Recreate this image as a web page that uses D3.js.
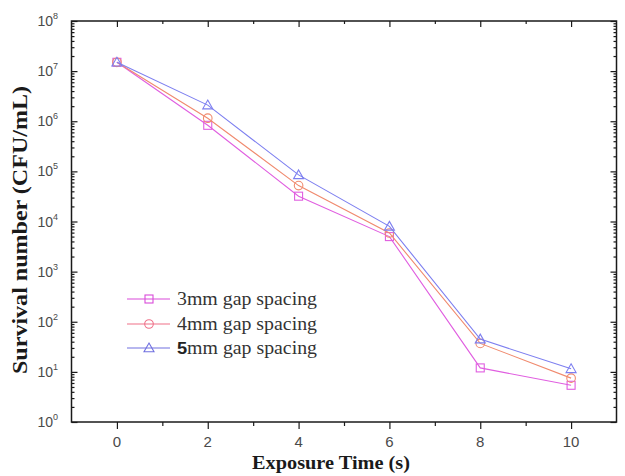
<!DOCTYPE html>
<html>
<head>
<meta charset="utf-8">
<script src="https://cdn.jsdelivr.net/npm/d3@7/dist/d3.min.js"></script>
<style>
  html, body { margin: 0; padding: 0; background: #fff; }
  svg { display: block; }
  .serif { font-family: "Liberation Serif", "Times New Roman", serif; }
  .sans { font-family: "Liberation Sans", Arial, sans-serif; }
</style>
</head>
<body>
<svg id="chart" width="625" height="476"></svg>
<script>
// Exposure time (s) and survival counts (CFU/mL) for each electrode gap
const exposureTimes = [0, 2, 4, 6, 8, 10];
const gap3mm = [1.5e7, 8.3e5, 3.2e4, 5.0e3, 12, 5.4];
const gap4mm = [1.5e7, 1.15e6, 5.2e4, 5.9e3, 37, 7.5];
const gap5mm = [1.5e7, 2.1e6, 8.5e4, 8.0e3, 45, 11.5];
const seriesNames = ["3mm gap spacing", "4mm gap spacing", "5mm gap spacing"];
const xTickValues = [0, 2, 4, 6, 8, 10];
const yDecades = [0, 1, 2, 3, 4, 5, 6, 7, 8];

const series = [
  { name: seriesNames[0], values: gap3mm, color: "#e05ee0", legendColor: "#d94bd9", marker: "square" },
  { name: seriesNames[1], values: gap4mm, color: "#f08a6e", legendColor: "#ef7088", marker: "circle" },
  { name: seriesNames[2], values: gap5mm, color: "#7d7ff0", legendColor: "#7070e0", marker: "triangle" }
];

const svg = d3.select("#chart");
const plot = { left: 71.5, right: 616.5, top: 21, bottom: 422 };

const x = d3.scaleLinear().domain([-1, 11]).range([plot.left, plot.right]);
const y = d3.scaleLog().domain([1, 1e8]).range([plot.bottom, plot.top]);

const axisColor = "#1a1a1a";

// Minor log ticks (2..9 within each decade)
const minorY = [];
for (let d = 0; d < 8; d++) for (let m = 2; m <= 9; m++) minorY.push(m * Math.pow(10, d));
const majorY = yDecades.map(d => Math.pow(10, d));
const oddX = [1, 3, 5, 7, 9];

function styleAxis(g) {
  g.select(".domain").remove();
  g.selectAll(".tick line").attr("stroke", axisColor).attr("stroke-width", 1.2);
}

// Left and right axes: inward ticks
svg.append("g").attr("transform", `translate(${plot.left},0)`)
  .call(d3.axisRight(y).tickValues(majorY).tickSize(6).tickFormat("")).call(styleAxis);
svg.append("g").attr("transform", `translate(${plot.left},0)`)
  .call(d3.axisRight(y).tickValues(minorY).tickSize(3).tickFormat("")).call(styleAxis);
svg.append("g").attr("transform", `translate(${plot.right},0)`)
  .call(d3.axisLeft(y).tickValues(majorY).tickSize(6).tickFormat("")).call(styleAxis);
svg.append("g").attr("transform", `translate(${plot.right},0)`)
  .call(d3.axisLeft(y).tickValues(minorY).tickSize(3).tickFormat("")).call(styleAxis);
// Bottom axis: outward ticks
svg.append("g").attr("transform", `translate(0,${plot.bottom})`)
  .call(d3.axisBottom(x).tickValues(xTickValues).tickSize(7).tickFormat("")).call(styleAxis);
svg.append("g").attr("transform", `translate(0,${plot.bottom})`)
  .call(d3.axisBottom(x).tickValues(oddX).tickSize(4).tickFormat("")).call(styleAxis);
// Top axis: inward ticks
svg.append("g").attr("transform", `translate(0,${plot.top})`)
  .call(d3.axisBottom(x).tickValues(xTickValues).tickSize(6).tickFormat("")).call(styleAxis);
svg.append("g").attr("transform", `translate(0,${plot.top})`)
  .call(d3.axisBottom(x).tickValues(oddX).tickSize(3).tickFormat("")).call(styleAxis);

// Frame
svg.append("rect")
  .attr("x", plot.left).attr("y", plot.top)
  .attr("width", plot.right - plot.left).attr("height", plot.bottom - plot.top)
  .attr("fill", "none").attr("stroke", axisColor).attr("stroke-width", 1.5);

// Y tick labels as powers of ten
const yLabels = svg.append("g").attr("class", "sans").attr("fill", "#4a4a4a");
yDecades.forEach(d => {
  const t = yLabels.append("text")
    .attr("x", 58).attr("y", y(Math.pow(10, d)) + 5)
    .attr("text-anchor", "end")
    .style("font-size", "14px");
  t.append("tspan").text("10");
  t.append("tspan").style("font-size", "9px").attr("dy", -7).text(String(d));
});

// X tick labels
svg.append("g").attr("class", "sans").attr("fill", "#4a4a4a")
  .selectAll("text").data(xTickValues).join("text")
  .attr("x", d => x(d)).attr("y", 447)
  .attr("text-anchor", "middle").style("font-size", "15px")
  .text(d => d);

// Axis titles
svg.append("text")
  .attr("class", "serif")
  .attr("x", 331).attr("y", 469)
  .attr("text-anchor", "middle")
  .style("font-weight", "bold").style("font-size", "18px")
  .attr("fill", "#1a1a1a")
  .attr("textLength", 158).attr("lengthAdjust", "spacingAndGlyphs")
  .text("Exposure Time  (s)");

svg.append("text")
  .attr("class", "serif")
  .attr("transform", "translate(27,230) rotate(-90)")
  .attr("text-anchor", "middle")
  .style("font-weight", "bold").style("font-size", "21px")
  .attr("fill", "#1a1a1a")
  .attr("textLength", 288).attr("lengthAdjust", "spacingAndGlyphs")
  .text("Survival number  (CFU/mL)");

// Marker drawing
function drawMarker(g, type, cx, cy, color) {
  if (type === "square") {
    g.append("rect").attr("x", cx - 4).attr("y", cy - 4).attr("width", 8).attr("height", 8)
      .attr("fill", "none").attr("stroke", color).attr("stroke-width", 1.1);
  } else if (type === "circle") {
    g.append("circle").attr("cx", cx).attr("cy", cy).attr("r", 4.3)
      .attr("fill", "none").attr("stroke", color).attr("stroke-width", 1.1);
  } else {
    const h = 5;
    g.append("path")
      .attr("d", `M${cx},${cy - h} L${cx + h},${cy + h * 0.75} L${cx - h},${cy + h * 0.75} Z`)
      .attr("fill", "none").attr("stroke", color).attr("stroke-width", 1.1);
  }
}

const line = d3.line().x(d => x(d[0])).y(d => y(d[1]));

series.forEach(s => {
  const pts = exposureTimes.map((t, i) => [t, s.values[i]]);
  const g = svg.append("g");
  g.append("path").datum(pts).attr("d", line)
    .attr("fill", "none").attr("stroke", s.color).attr("stroke-width", 1.1);
  pts.forEach(p => drawMarker(g, s.marker, x(p[0]), y(p[1]), s.color));
});

// Legend
const legend = svg.append("g");
const rowY = [299, 324, 348];
series.forEach((s, i) => {
  const ly = rowY[i];
  legend.append("line")
    .attr("x1", 127).attr("x2", 170).attr("y1", ly).attr("y2", ly)
    .attr("stroke", s.legendColor).attr("stroke-width", 1.2);
  drawMarker(legend, s.marker, 149, ly, s.legendColor);
  const t = legend.append("text")
    .attr("class", "serif")
    .attr("x", 177).attr("y", ly + 5.5)
    .style("font-size", "18.5px")
    .attr("fill", "#333")
    .attr("textLength", 140).attr("lengthAdjust", "spacingAndGlyphs");
  if (i === 2) {
    t.append("tspan").attr("class", "sans").style("font-weight", "bold")
      .style("font-size", "17px").attr("fill", "#222").text(s.name.slice(0, 1));
    t.append("tspan").text(s.name.slice(1));
  } else {
    t.text(s.name);
  }
});
</script>
</body>
</html>
